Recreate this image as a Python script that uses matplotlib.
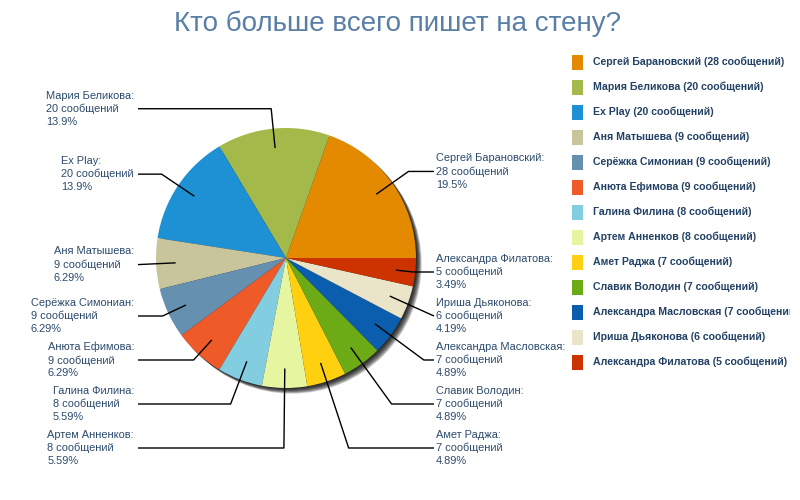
import math
import matplotlib
matplotlib.use("Agg")
import matplotlib.pyplot as plt
from matplotlib.patches import Circle, Rectangle
from matplotlib.transforms import Bbox, TransformedBbox

names = ["Сергей Барановский", "Мария Беликова", "Ex Play", "Аня Матышева",
         "Серёжка Симониан", "Анюта Ефимова", "Галина Филина", "Артем Анненков",
         "Амет Раджа", "Славик Володин", "Александра Масловская",
         "Ириша Дьяконова", "Александра Филатова"]
counts = [28, 20, 20, 9, 9, 9, 8, 8, 7, 7, 7, 6, 5]
colors = ["#E38A00", "#A3BA4A", "#1E90D4", "#C8C59C", "#6590B0", "#EE5A28",
          "#82CDE0", "#E6F5A0", "#FFD010", "#6CAA16", "#0B5EAE", "#EAE5C8",
          "#CC3300"]
title = "Кто больше всего пишет на стену?"

plt.rcParams['font.family'] = ['Liberation Sans', 'DejaVu Sans']

W, H = 800, 500
fig = plt.figure(figsize=(8, 5), dpi=100)
ax = fig.add_axes([0, 0, 1, 1])

cx, cy, R = 286, 242, 130

# soft shadow
for k in range(1, 8):
    ax.add_patch(Circle((cx + k * 0.8, cy - k * 0.8), R, color="black",
                        alpha=0.22, lw=0, zorder=1))

wedges, _ = ax.pie(counts, colors=colors, radius=R, center=(cx, cy),
                   startangle=0, counterclock=True,
                   wedgeprops=dict(linewidth=0, zorder=2))

ax.set_xlim(0, W)
ax.set_ylim(0, H)
ax.set_aspect('auto')
ax.axis('off')

total = sum(counts)


def pct_text(v):
    p = v / total * 100
    if p >= 10:
        return f"{math.floor(p * 10 + 1e-9) / 10:.1f}%"
    return f"{math.floor(p * 100 + 1e-9) / 100:.2f}%"


text_color = "#2B4A6C"
label_r = 150
spacing = 44
bottom_lim = cy - 190

items = []
for i, w in enumerate(wedges):
    mid = math.radians((w.theta1 + w.theta2) / 2)
    side = 1 if math.cos(mid) >= 0 else -1
    items.append(dict(i=i, mid=mid, side=side, y=cy + label_r * math.sin(mid)))

for side in (1, -1):
    grp = sorted([it for it in items if it["side"] == side], key=lambda d: -d["y"])
    for j in range(1, len(grp)):
        grp[j]["y"] = min(grp[j]["y"], grp[j - 1]["y"] - spacing)
    if grp[-1]["y"] < bottom_lim:
        grp[-1]["y"] = bottom_lim
    for j in range(len(grp) - 2, -1, -1):
        grp[j]["y"] = max(grp[j]["y"], grp[j + 1]["y"] + spacing)

for it in items:
    i, mid, side, ly = it["i"], it["mid"], it["side"], it["y"]
    c, s = math.cos(mid), math.sin(mid)
    p0 = (cx + 0.85 * R * c, cy + 0.85 * R * s)
    endx = cx + side * 148
    pts = [p0]
    if abs(s) > 1e-6:
        d = (ly - cy) / s
        ex = cx + d * c
        if d > 0.85 * R and (ex - endx) * side < 0:
            pts.append((ex, ly))
    pts.append((endx, ly))
    ax.plot([p[0] for p in pts], [p[1] for p in pts], color="black", lw=1,
            zorder=3, solid_capstyle="butt")
    txt = f"{names[i]}:\n{counts[i]} сообщений\n{pct_text(counts[i])}"
    if side == 1:
        ax.text(endx + 2, ly, txt, ha="left", va="center", fontsize=7.9,
                color=text_color, linespacing=1.35, multialignment="left")
    else:
        ax.text(endx - 4, ly, txt, ha="right", va="center", fontsize=7.9,
                color=text_color, linespacing=1.35, multialignment="left")

# legend
clipbox = TransformedBbox(Bbox([[560, 0], [790, H]]), ax.transData)
leg_y0 = H - 62
for i, n in enumerate(names):
    y = leg_y0 - i * 25
    ax.add_patch(Rectangle((572, y - 7.5), 11, 15, color=colors[i], lw=0,
                           clip_on=False))
    t = ax.text(593, y, f"{n} ({counts[i]} сообщений)", ha="left", va="center",
                fontsize=7.6, fontweight="bold", color="#234164")
    t.set_clip_on(True)
    t.set_clip_box(clipbox)

ax.text(398, H - 24, title, ha="center", va="center", fontsize=20,
        color="#5A7FA5")

fig.savefig("out.png", dpi=100)
